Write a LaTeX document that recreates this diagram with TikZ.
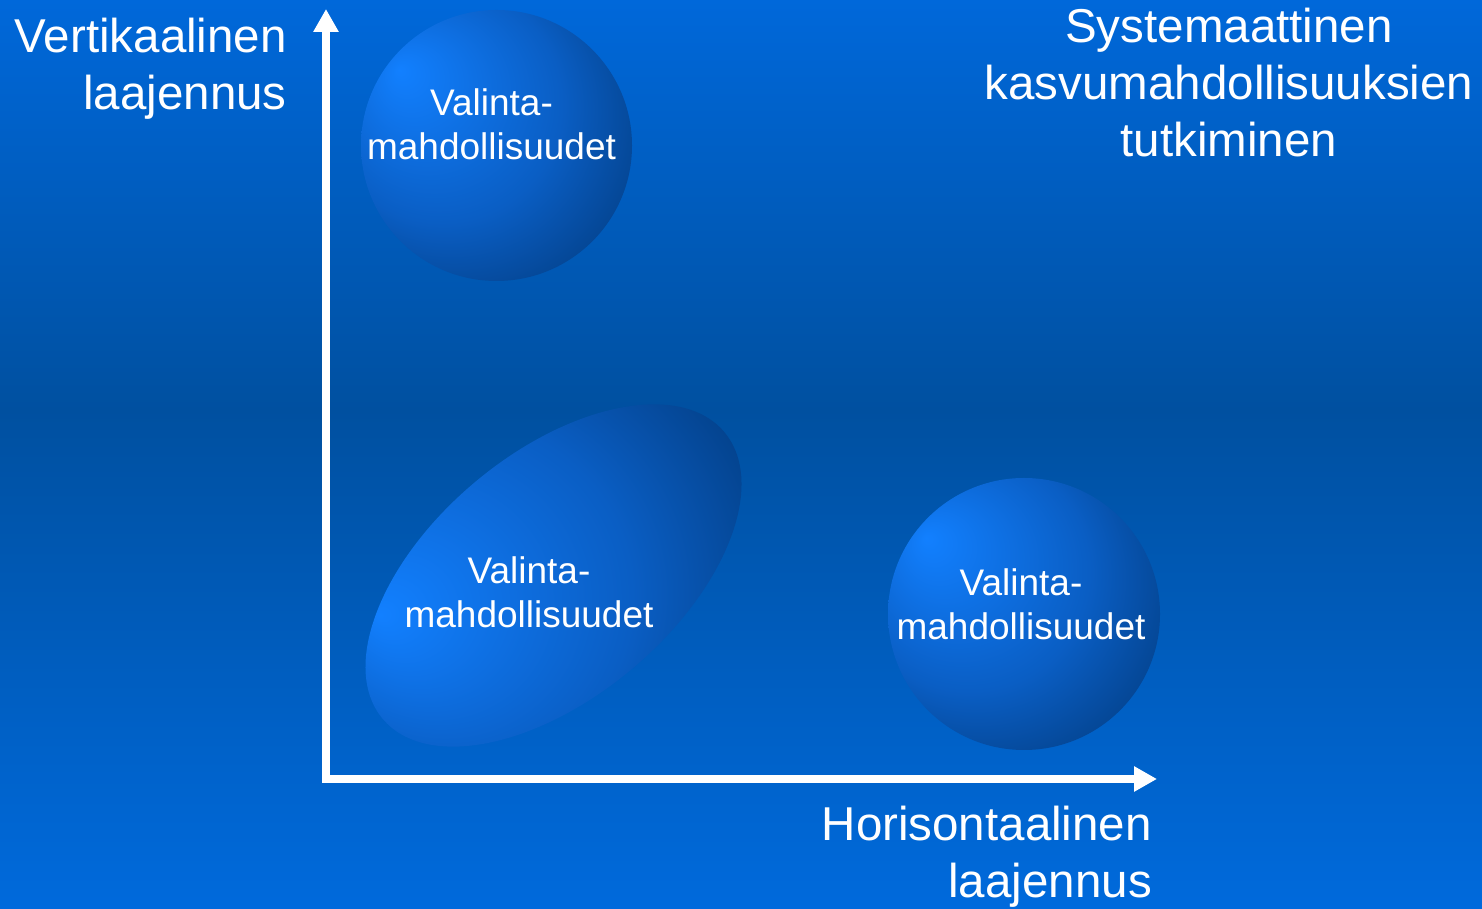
\documentclass[tikz,border=0pt]{standalone}
\usepackage{fontspec}
\setmainfont{Liberation Sans}
\usetikzlibrary{arrows.meta, shapes.geometric}
\definecolor{bgtop}{RGB}{0, 104, 218}
\definecolor{bgmid}{RGB}{0, 80, 160}
\definecolor{bgbottom}{RGB}{0, 106, 220}
\definecolor{bubblelight}{RGB}{18, 128, 255}
\definecolor{bubblemid}{RGB}{10, 94, 196}
\definecolor{bubbledark}{RGB}{2, 60, 128}
\pgfdeclareradialshading{bubble}{\pgfpoint{-18bp}{14bp}}{color(0bp)=(bubblelight); color(22bp)=(bubblemid); color(38bp)=(bubbledark); color(50bp)=(bubbledark)}

\begin{document}
\begin{tikzpicture}[x=1pt, y=1pt,
	axisline/.style={white, line width=7.5pt, {Triangle[width=24pt,length=23pt]}-{Triangle[width=24pt,length=23pt]}},
	optbubble/.style={shading=bubble, draw=none, inner sep=0pt},
	biglabel/.style={white, inner sep=0pt, font=\fontsize{47.5}{57}\selectfont},
	optlabel/.style={white, inner sep=0pt, align=center, font=\fontsize{37}{44}\selectfont}]
	\shade[top color=bgtop, bottom color=bgmid] (0,499) rectangle (1482,909);
	\shade[top color=bgmid, bottom color=bgbottom] (0,0) rectangle (1482,500);
	\useasboundingbox (0,0) rectangle (1482,909);
	\node[optbubble, circle, minimum size=271pt] (optA) at (496.5,763.5) {};
	\node[optbubble, ellipse, minimum width=446pt, minimum height=244pt, rotate=40, shading angle=55] (optB) at (553.5,333.5) {};
	\node[optbubble, circle, minimum size=272pt] (optC) at (1024,295) {};
	\foreach \n/\x/\y in {optA/491.5/749, optB/529/281, optC/1021/269} {
		\node[optlabel, anchor=base] (\n-text) at (\x,\y) {Valinta-\\mahdollisuudet};
	}
	\coordinate (ytip) at (326,900);
	\coordinate (xtip) at (1157,130);
	\draw[axisline] (ytip) |- (xtip);
	\node[biglabel, align=right, anchor=base east] (vlabel) at (287,799.7) {Vertikaalinen\\laajennus};
	\node[biglabel, align=center, anchor=base] (toplabel) at (1229,752.3) {Systemaattinen\\kasvumahdollisuuksien\\tutkiminen};
	\node[biglabel, align=right, anchor=base east] (hlabel) at (1152,11) {Horisontaalinen\\laajennus};
\end{tikzpicture}
\end{document}
